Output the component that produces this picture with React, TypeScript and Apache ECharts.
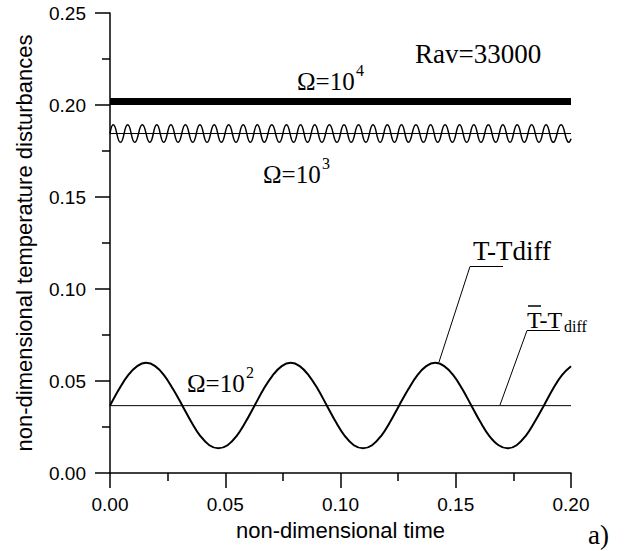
import React, { useEffect, useRef } from "react";
import * as echarts from "echarts";

// axis ranges / ticks
const xMin = 0;
const xMax = 0.2;
const xStep = 0.05;
const yMin = 0;
const yMax = 0.25;
const yStep = 0.05;

// Omega = 10^2 : T - Tdiff (read at ~1/16 period steps)
const omega2X = [0, 0.0039, 0.0078, 0.0118, 0.0157, 0.0196, 0.0235, 0.0274, 0.0314, 0.0353, 0.0392, 0.0431, 0.047, 0.051, 0.0549, 0.0588, 0.0627, 0.0666, 0.0706, 0.0745, 0.0784, 0.0823, 0.0862, 0.0902, 0.0941, 0.098, 0.1019, 0.1058, 0.1098, 0.1137, 0.1176, 0.1215, 0.1254, 0.1294, 0.1333, 0.1372, 0.1411, 0.145, 0.149, 0.1529, 0.1568, 0.1607, 0.1646, 0.1686, 0.1725, 0.1764, 0.1803, 0.1842, 0.1882, 0.1921, 0.196, 0.2];
const omega2Y = [0.0366, 0.0455, 0.0531, 0.0581, 0.0599, 0.0581, 0.0531, 0.0455, 0.0366, 0.0277, 0.0201, 0.0151, 0.0134, 0.0151, 0.0201, 0.0277, 0.0366, 0.0455, 0.0531, 0.0581, 0.0599, 0.0581, 0.0531, 0.0455, 0.0366, 0.0277, 0.0201, 0.0151, 0.0134, 0.0151, 0.0201, 0.0277, 0.0366, 0.0455, 0.0531, 0.0581, 0.0599, 0.0581, 0.0531, 0.0455, 0.0366, 0.0277, 0.0201, 0.0151, 0.0134, 0.0151, 0.0201, 0.0277, 0.0366, 0.0455, 0.0531, 0.058];

// Omega = 10^3 : peaks and troughs
const omega3X = [0, 0.0014, 0.00455, 0.00766, 0.01076, 0.01401, 0.01726, 0.02029, 0.02332, 0.02643, 0.02954, 0.03272, 0.03589, 0.039, 0.0421, 0.04521, 0.04831, 0.05149, 0.05467, 0.05778, 0.06088, 0.06391, 0.06694, 0.07019, 0.07344, 0.07655, 0.07965, 0.08269, 0.08572, 0.08883, 0.09193, 0.09518, 0.09843, 0.10154, 0.10464, 0.10782, 0.11099, 0.1141, 0.1172, 0.12031, 0.12341, 0.12645, 0.12948, 0.13273, 0.13598, 0.13909, 0.14219, 0.14537, 0.14854, 0.15165, 0.15475, 0.15786, 0.16096, 0.16414, 0.16732, 0.17043, 0.17353, 0.17664, 0.17974, 0.18292, 0.18609, 0.1892, 0.1923, 0.1957, 0.19909, 0.2];
const omega3Y = [0.1845, 0.1892, 0.1797, 0.1892, 0.1797, 0.1892, 0.1797, 0.1892, 0.1797, 0.1892, 0.1797, 0.1892, 0.1797, 0.1892, 0.1797, 0.1892, 0.1797, 0.1892, 0.1797, 0.1892, 0.1797, 0.1892, 0.1797, 0.1892, 0.1797, 0.1892, 0.1797, 0.1892, 0.1797, 0.1892, 0.1797, 0.1892, 0.1797, 0.1892, 0.1797, 0.1892, 0.1797, 0.1892, 0.1797, 0.1892, 0.1797, 0.1892, 0.1797, 0.1892, 0.1797, 0.1892, 0.1797, 0.1892, 0.1797, 0.1892, 0.1797, 0.1892, 0.1797, 0.1892, 0.1797, 0.1892, 0.1797, 0.1892, 0.1797, 0.1892, 0.1797, 0.1892, 0.1797, 0.1892, 0.1797, 0.1816];

// Omega = 10^4 : very dense oscillation, appears as a solid band
const omega4X = [0, 0.2];
const omega4Y = [0.2019, 0.2019];

// mean lines (T-bar - Tdiff)
const mean2X = [0, 0.2];
const mean2Y = [0.0366, 0.0366];
const mean3X = [0, 0.2];
const mean3Y = [0.1845, 0.1845];

const pairs = (xs: number[], ys: number[]) => xs.map((x, i) => [x, ys[i]]);

const SANS = '"Liberation Sans", Arial, sans-serif';
const SERIF = '"Liberation Serif", "Times New Roman", serif';

const txt = (text: string, x: number, y: number, size: number) => ({
  type: "text",
  x,
  y,
  silent: true,
  style: { text, fontSize: size, fontFamily: SERIF, fill: "#000", align: "left", verticalAlign: "middle" },
});

export default function App() {
  const ref = useRef<HTMLDivElement>(null);
  useEffect(() => {
    if (!ref.current) return;
    const chart = echarts.init(ref.current, undefined, { renderer: "svg" });
    const axisCommon = {
      axisLine: { show: true, lineStyle: { color: "#000", width: 1.5 } },
      axisTick: { show: true, length: 15, lineStyle: { color: "#000", width: 1.5 } },
      minorTick: { show: true, splitNumber: 2, length: 8, lineStyle: { color: "#000", width: 1.5 } },
      splitLine: { show: false },
      minorSplitLine: { show: false },
    };
    chart.setOption({
      animation: false,
      backgroundColor: "#fff",
      grid: { left: 110, right: 55, top: 13, bottom: 78, containLabel: false },
      xAxis: {
        type: "value",
        min: xMin,
        max: xMax,
        interval: xStep,
        ...axisCommon,
        axisLabel: { margin: 22, fontSize: 19, fontFamily: SANS, color: "#000", formatter: (v: number) => v.toFixed(2) },
        name: "non-dimensional time",
        nameLocation: "middle",
        nameGap: 46,
        nameTextStyle: { fontSize: 22, fontFamily: SANS, color: "#000" },
      },
      yAxis: {
        type: "value",
        min: yMin,
        max: yMax,
        interval: yStep,
        ...axisCommon,
        axisLabel: { margin: 24, fontSize: 19, fontFamily: SANS, color: "#000", formatter: (v: number) => v.toFixed(2) },
        name: "non-dimensional temperature disturbances",
        nameLocation: "middle",
        nameGap: 75,
        nameTextStyle: { fontSize: 22, fontFamily: SANS, color: "#000" },
      },
      series: [
        {
          type: "line",
          data: pairs(omega4X, omega4Y),
          symbol: "none",
          lineStyle: { color: "#000", width: 7 },
        },
        {
          type: "line",
          data: pairs(omega3X, omega3Y),
          symbol: "none",
          smooth: true,
          lineStyle: { color: "#000", width: 1.5 },
        },
        {
          type: "line",
          data: pairs(mean3X, mean3Y),
          symbol: "none",
          lineStyle: { color: "#000", width: 1 },
        },
        {
          type: "line",
          data: pairs(omega2X, omega2Y),
          symbol: "none",
          smooth: 0.4,
          lineStyle: { color: "#000", width: 2 },
        },
        {
          type: "line",
          data: pairs(mean2X, mean2Y),
          symbol: "none",
          lineStyle: { color: "#000", width: 1 },
        },
      ],
      graphic: [
        txt("Rav=33000", 415, 54, 27),
        txt("Ω=10", 297, 81, 25),
        txt("4", 356, 70, 16),
        txt("Ω=10", 263, 174, 25),
        txt("3", 322, 163, 16),
        txt("Ω=10", 187, 383, 25),
        txt("2", 246, 372, 16),
        txt("T-Tdiff", 473, 250.5, 27),
        txt("T-T", 527, 320, 24),
        txt("diff", 564, 326, 16),
        {
          type: "line",
          silent: true,
          shape: { x1: 528, y1: 306, x2: 541, y2: 306 },
          style: { stroke: "#000", lineWidth: 1.5 },
        },
        {
          type: "polyline",
          silent: true,
          shape: { points: [[503, 266.5], [470, 266.5], [439, 362]] },
          style: { stroke: "#000", lineWidth: 1, fill: "none" },
        },
        {
          type: "polyline",
          silent: true,
          shape: { points: [[560, 330.5], [527, 330.5], [500, 405]] },
          style: { stroke: "#000", lineWidth: 1, fill: "none" },
        },
        txt("a)", 588, 535, 27),
      ],
    });
    return () => chart.dispose();
  }, []);
  return <div ref={ref} style={{ position: "fixed", left: 0, top: 0, width: 626, height: 551, background: "#fff" }} />;
}
